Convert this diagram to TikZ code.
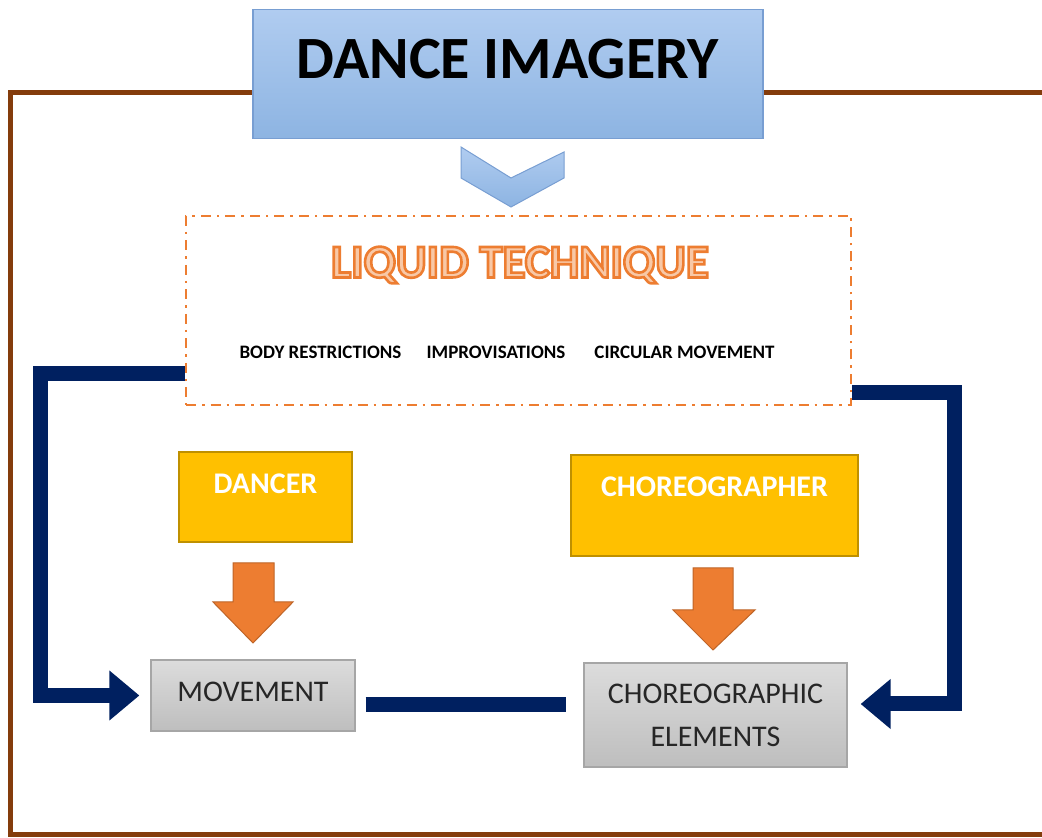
\documentclass[tikz,border=0pt]{standalone}
\usepackage{fontspec}
\setmainfont{Carlito}
\usepackage{xcolor}
\usepackage{tikz}
\usetikzlibrary{arrows.meta}
\definecolor{framebrown}{RGB}{132, 60, 12}
\definecolor{skyblue}{RGB}{176, 204, 240}
\definecolor{deepsky}{RGB}{141, 180, 226}
\definecolor{skyedge}{RGB}{120, 158, 210}
\definecolor{techorange}{RGB}{237, 125, 49}
\definecolor{paleorange}{RGB}{248, 200, 166}
\definecolor{navyline}{RGB}{0, 32, 96}
\definecolor{roleyellow}{RGB}{255, 192, 0}
\definecolor{roleedge}{RGB}{191, 144, 0}
\definecolor{lightgrey}{RGB}{220, 220, 220}
\definecolor{midgrey}{RGB}{190, 190, 190}
\definecolor{greyedge}{RGB}{166, 166, 166}
\definecolor{inkgrey}{RGB}{38, 38, 38}
% outlined letters: fill, then stroke the glyph edges in orange
\newcommand{\outlined}[1]{\textcolor{paleorange}{\special{pdf:literal direct 2 Tr 2.6 w 0.929 0.490 0.192 RG}#1\special{pdf:literal direct 0 Tr 0 G 0.4 w}}}

\begin{document}
\begin{tikzpicture}[x=1pt, y=1pt,
    title/.style = {draw=skyedge, line width=1.2pt, top color=skyblue, bottom color=deepsky, minimum width=510pt, minimum height=129pt, font=\fontsize{60}{60}\selectfont\bfseries, text height=40pt, text depth=30pt},
    tech/.style = {draw=techorange, line width=2.4pt, dash pattern=on 10pt off 6pt on 2.5pt off 6pt, fill=white, minimum width=665pt, minimum height=189pt},
    tag/.style = {font=\fontsize{19}{19}\selectfont\bfseries},
    role/.style = {draw=roleedge, line width=1.5pt, fill=roleyellow, text=white, font=\fontsize{30}{30}\selectfont\bfseries, text height=19pt},
    result/.style = {draw=greyedge, line width=1.2pt, top color=lightgrey, bottom color=midgrey, text=inkgrey, font=\fontsize{30}{43}\selectfont, align=center},
    link/.style = {draw=navyline, line width=15pt, -{Triangle[length=30pt, width=48pt]}},
    bar/.style = {draw=navyline, line width=15pt},
    drop/.style = {draw=techorange!80!black, line width=1pt, fill=techorange}]
    \useasboundingbox (0,0) rectangle (1042,838);
    % frame behind the title
    \draw[framebrown, line width=5pt] (1042,745) -- (10,745) -- (10,3) -- (1042,3);

    \node[title] (imagery) at (508,764) {DANCE IMAGERY};
    \draw[draw=skyedge, line width=1pt, top color=skyblue, bottom color=deepsky]
        (461,691) -- (511,660) -- (564,686) -- (564,660) -- (511,631) -- (461,660) -- cycle;

    \node[tech] (tech) at (518.5,527.5) {};
    \node (liquid) at (520,573) {\fontsize{47}{47}\selectfont\bfseries\outlined{LIQUID TECHNIQUE}};
    \node[tag] (body) at (320.5,486) {BODY RESTRICTIONS};
    \node[tag] (impro) at (496,486) {IMPROVISATIONS};
    \node[tag] (circ) at (684.5,486) {CIRCULAR MOVEMENT};

    \node[role, minimum width=173pt, minimum height=90pt, text depth=25pt] (dancer) at (265.5,341) {DANCER};
    \node[role, minimum width=287pt, minimum height=101pt, text depth=36pt] (choreo) at (714.5,332.5) {CHOREOGRAPHER};

    \node[result, minimum width=204pt, minimum height=71pt, text height=20pt, text depth=7pt] (movement) at (253,142.5) {MOVEMENT};
    \node[result, minimum width=263pt, minimum height=104pt] (elements) at (715.5,123) {CHOREOGRAPHIC\\ELEMENTS};

    \draw[drop] (233,275) -- (274,275) -- (274,236) -- (293,236) -- (253,195) -- (213,236) -- (233,236) -- cycle;
    \draw[drop] (693,270) -- (733,270) -- (733,228) -- (755,228) -- (713,188) -- (673,228) -- (693,228) -- cycle;

    \coordinate (midend) at (movement.east -| elements.west);
    \draw[link, shorten >=11pt] ([yshift=-63.5pt]tech.west) -| ([xshift=-110pt]movement.west) -- (movement.west);
    \draw[link, shorten >=13pt] ([yshift=-82.5pt]tech.east) -| ([xshift=107pt,yshift=11pt]elements.east) -- ([yshift=11pt]elements.east);
    \draw[bar] ([xshift=10pt,yshift=-9.5pt]movement.east) -- ([xshift=-17pt,yshift=-9.5pt]midend);
\end{tikzpicture}
\end{document}
